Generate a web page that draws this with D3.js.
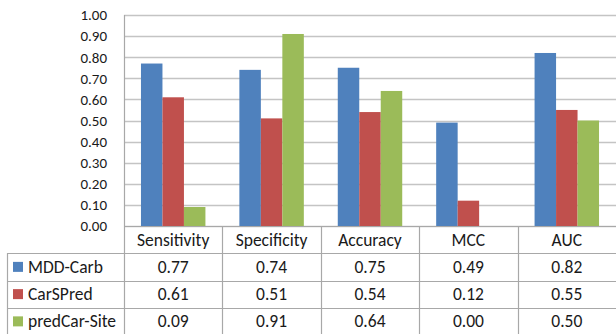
<!DOCTYPE html>
<html>
<head>
<meta charset="utf-8">
<script src="https://cdn.jsdelivr.net/npm/d3@7"></script>
<style>
  html, body { margin: 0; padding: 0; background: #fff; }
  svg { display: block; }
  text { font-family: Carlito, Calibri, Lato, "Open Sans", sans-serif; fill: #1a1a1a; }
</style>
</head>
<body>
<svg id="chart" width="616" height="334"></svg>
<script>
// Metric categories, series and values
const categories = ["Sensitivity", "Specificity", "Accuracy", "MCC", "AUC"];
const seriesNames = ["MDD-Carb", "CarSPred", "predCar-Site"];
const mddCarb     = [0.77, 0.74, 0.75, 0.49, 0.82];
const carSPred    = [0.61, 0.51, 0.54, 0.12, 0.55];
const predCarSite = [0.09, 0.91, 0.64, 0.00, 0.50];
const yTicks = [0, 0.1, 0.2, 0.3, 0.4, 0.5, 0.6, 0.7, 0.8, 0.9, 1.0];
const seriesColors = ["#4F81BD", "#C0504D", "#9BBB59"];

const seriesValues = [mddCarb, carSPred, predCarSite];
const series = seriesNames.map((name, i) => ({
  name, color: seriesColors[i],
  values: categories.map((c, j) => ({ cat: c, value: seriesValues[i][j] }))
}));

const svg = d3.select("#chart");
const plotLeft = 124, plotRight = 616, plotTop = 15, plotBottom = 226;
const tableLeft = 7, tableBottom = 335;

const x = d3.scaleBand().domain(categories).range([plotLeft, plotRight]).paddingInner(0).paddingOuter(0);
const xs = d3.scaleBand().domain(seriesNames).range([0, x.bandwidth()]).paddingInner(0).paddingOuter(0.79);
const y = d3.scaleLinear().domain([0, 1]).range([plotBottom, plotTop]);

const gridColor = "#c4c4c4";
const lineColor = "#a8a8a8";
const textFont = 17.5;

// Horizontal gridlines
svg.append("g").selectAll("line").data(yTicks).join("line")
  .attr("x1", plotLeft).attr("x2", plotRight)
  .attr("y1", d => Math.round(y(d)) + 0.5).attr("y2", d => Math.round(y(d)) + 0.5)
  .attr("stroke", gridColor).attr("stroke-width", 1.5);

// Y axis
const yAxis = d3.axisLeft(y).tickValues(yTicks).tickFormat(d3.format(".2f")).tickSize(0).tickPadding(17);
const ya = svg.append("g").attr("transform", `translate(${plotLeft},0)`).call(yAxis);
ya.select(".domain").remove();
ya.selectAll("text").attr("font-size", 15).style("font-family", "Carlito, Calibri, Lato, sans-serif").attr("fill", "#1a1a1a");

// Bars
const groups = svg.append("g").selectAll("g").data(series).join("g")
  .attr("fill", d => d.color);
groups.selectAll("rect").data(d => d.values.map(v => ({ ...v, name: d.name }))).join("rect")
  .attr("x", d => x(d.cat) + xs(d.name))
  .attr("width", xs.bandwidth())
  .attr("y", d => y(d.value))
  .attr("height", d => y(0) - y(d.value));

// Data table
const rows = ["header", ...seriesNames];
const r = d3.scaleBand().domain(rows).range([plotBottom, tableBottom]);

const t = svg.append("g");
// horizontal rules
t.selectAll("line.h").data(rows.slice(1)).join("line").attr("class", "h")
  .attr("x1", tableLeft).attr("x2", plotRight)
  .attr("y1", d => Math.round(r(d)) + 0.5).attr("y2", d => Math.round(r(d)) + 0.5)
  .attr("stroke", lineColor).attr("stroke-width", 1.2);
// axis baseline
t.append("line").attr("x1", plotLeft).attr("x2", plotRight)
  .attr("y1", plotBottom + 0.5).attr("y2", plotBottom + 0.5)
  .attr("stroke", lineColor).attr("stroke-width", 1.2);
// vertical rules between categories
t.selectAll("line.v").data(categories.slice(1)).join("line").attr("class", "v")
  .attr("x1", d => Math.round(x(d)) + 0.5).attr("x2", d => Math.round(x(d)) + 0.5)
  .attr("y1", plotBottom).attr("y2", tableBottom)
  .attr("stroke", lineColor).attr("stroke-width", 1.2);
// left axis line continuing through table
t.append("line").attr("x1", plotLeft + 0.5).attr("x2", plotLeft + 0.5)
  .attr("y1", plotTop).attr("y2", tableBottom)
  .attr("stroke", lineColor).attr("stroke-width", 1.2);
// left border of the series rows
t.append("line").attr("x1", tableLeft + 0.5).attr("x2", tableLeft + 0.5)
  .attr("y1", r(seriesNames[0])).attr("y2", tableBottom)
  .attr("stroke", lineColor).attr("stroke-width", 1.2);

// header labels
t.selectAll("text.hdr").data(categories).join("text").attr("class", "hdr")
  .attr("x", d => x(d) + x.bandwidth() / 2)
  .attr("y", r("header") + r.bandwidth() / 2)
  .attr("text-anchor", "middle").attr("dominant-baseline", "central")
  .attr("font-size", textFont).text(d => d);

// series rows
series.forEach(s => {
  const cy = r(s.name) + r.bandwidth() / 2;
  t.append("rect").attr("x", 13).attr("y", cy - 5).attr("width", 10).attr("height", 10).attr("fill", s.color);
  t.append("text").attr("x", 28).attr("y", cy).attr("dominant-baseline", "central")
    .attr("font-size", textFont).text(s.name);
  t.selectAll(null).data(s.values).join("text")
    .attr("x", d => x(d.cat) + x.bandwidth() / 2).attr("y", cy)
    .attr("text-anchor", "middle").attr("dominant-baseline", "central")
    .attr("font-size", textFont).text(d => d3.format(".2f")(d.value));
});
</script>
</body>
</html>
